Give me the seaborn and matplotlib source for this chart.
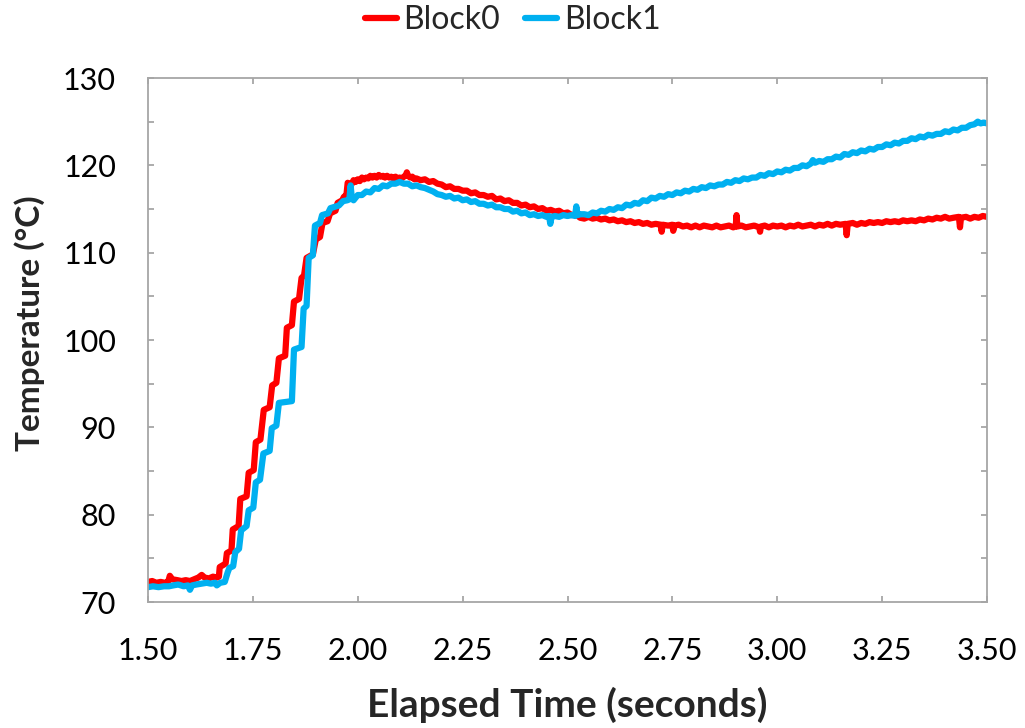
import numpy as np
import pandas as pd
import seaborn as sns
import matplotlib.pyplot as plt
from matplotlib.ticker import MultipleLocator, FixedLocator

# Block0 thermocouple trace: (time s, temperature °C)
block0_rise = [
    (1.500, 72.3), (1.510, 72.4), (1.520, 72.2), (1.530, 72.3), (1.540, 72.2),
    (1.548, 72.3), (1.552, 73.0), (1.558, 72.6), (1.570, 72.5), (1.580, 72.4),
    (1.590, 72.5), (1.600, 72.4), (1.610, 72.6), (1.620, 72.8), (1.628, 73.1),
    (1.635, 72.8), (1.645, 72.7), (1.655, 72.9), (1.664, 72.8), (1.669, 72.9),
    (1.671, 74.0), (1.685, 74.4), (1.688, 75.6), (1.699, 75.9), (1.702, 78.3),
    (1.716, 78.7), (1.720, 81.8), (1.735, 82.1), (1.740, 84.8), (1.752, 85.1),
    (1.757, 88.3), (1.768, 88.6), (1.776, 92.0), (1.790, 92.3), (1.796, 94.8),
    (1.806, 95.1), (1.812, 97.9), (1.827, 98.2), (1.831, 101.4), (1.843, 101.7),
    (1.848, 104.4), (1.860, 104.7), (1.866, 107.1), (1.872, 107.4), (1.878, 109.4),
    (1.893, 109.8), (1.900, 111.5), (1.910, 111.8), (1.916, 113.4), (1.928, 113.6),
    (1.934, 114.5), (1.947, 114.8), (1.952, 115.7), (1.963, 116.0), (1.967, 116.4),
    (1.973, 116.6), (1.976, 118.0),
]
block0_peak = [
    (1.985, 117.8), (1.990, 118.3), (1.995, 118.1), (2.000, 118.4), (2.005, 118.2),
    (2.010, 118.6), (2.015, 118.4), (2.020, 118.6), (2.025, 118.5), (2.030, 118.8),
    (2.035, 118.6), (2.040, 118.8), (2.045, 118.6), (2.050, 118.9), (2.055, 118.7),
    (2.060, 118.8), (2.065, 118.6), (2.070, 118.8), (2.075, 118.6), (2.080, 118.7),
    (2.085, 118.5), (2.090, 118.7), (2.095, 118.5), (2.100, 118.6), (2.105, 118.5),
    (2.110, 118.7), (2.115, 118.9), (2.117, 119.2), (2.120, 118.8), (2.125, 118.6),
    (2.130, 118.7), (2.135, 118.4), (2.140, 118.5), (2.150, 118.3), (2.160, 118.4),
    (2.170, 118.1), (2.180, 118.2), (2.190, 117.9), (2.200, 117.8), (2.210, 117.5),
    (2.220, 117.6), (2.230, 117.3), (2.240, 117.3), (2.250, 117.1), (2.260, 117.1),
    (2.270, 116.8), (2.280, 116.9), (2.290, 116.6), (2.300, 116.6), (2.310, 116.4),
    (2.320, 116.5), (2.330, 116.1), (2.340, 116.2), (2.350, 115.9), (2.360, 116.0),
    (2.370, 115.7), (2.380, 115.7), (2.390, 115.4), (2.400, 115.5), (2.410, 115.2),
    (2.420, 115.3), (2.430, 115.0), (2.440, 115.1), (2.450, 114.8), (2.460, 114.9),
    (2.470, 114.7), (2.480, 114.8), (2.490, 114.5), (2.500, 114.6), (2.510, 114.3),
    (2.520, 114.4), (2.530, 114.0),
]
block0_tail = [
    (2.540, 113.9), (2.550, 114.1), (2.560, 113.9), (2.570, 114.0), (2.580, 113.8),
    (2.590, 113.9), (2.600, 113.7), (2.610, 113.8), (2.620, 113.6), (2.630, 113.7),
    (2.640, 113.5), (2.650, 113.6), (2.660, 113.4), (2.670, 113.5), (2.680, 113.3),
    (2.690, 113.4), (2.700, 113.2), (2.710, 113.3), (2.722, 113.2), (2.7245, 112.4),
    (2.727, 113.2), (2.740, 113.1), (2.750, 113.2), (2.752, 112.5), (2.755, 113.1),
    (2.765, 113.2), (2.775, 113.0), (2.785, 113.1), (2.795, 112.9), (2.805, 113.1),
    (2.815, 112.9), (2.825, 113.1), (2.835, 113.0), (2.845, 112.9), (2.855, 113.1),
    (2.865, 112.9), (2.875, 113.0), (2.885, 113.1), (2.895, 112.9), (2.901, 113.0),
    (2.903, 114.3), (2.905, 113.0), (2.915, 113.1), (2.925, 112.9), (2.935, 113.0),
    (2.945, 113.1), (2.957, 112.9), (2.959, 112.4), (2.961, 113.0), (2.970, 113.1),
    (2.980, 112.9), (2.990, 113.1), (3.000, 113.0), (3.010, 113.1), (3.020, 112.9),
    (3.030, 113.1), (3.040, 113.0), (3.050, 113.2), (3.060, 113.0), (3.070, 113.1),
    (3.080, 113.2), (3.090, 113.0), (3.100, 113.2), (3.110, 113.1), (3.120, 113.3),
    (3.130, 113.1), (3.140, 113.3), (3.150, 113.2), (3.163, 113.3), (3.1655, 112.0),
    (3.168, 113.3), (3.180, 113.4), (3.190, 113.2), (3.200, 113.4), (3.210, 113.3),
    (3.220, 113.5), (3.230, 113.4), (3.240, 113.5), (3.250, 113.4), (3.260, 113.6),
    (3.270, 113.5), (3.280, 113.6), (3.290, 113.5), (3.300, 113.7), (3.310, 113.6),
    (3.320, 113.7), (3.330, 113.6), (3.340, 113.8), (3.350, 113.7), (3.360, 113.9),
    (3.370, 113.8), (3.380, 114.0), (3.390, 113.9), (3.400, 114.1), (3.410, 113.9),
    (3.420, 114.0), (3.433, 114.1), (3.4356, 112.9), (3.438, 114.0), (3.450, 114.1),
    (3.460, 113.9), (3.470, 114.1), (3.480, 114.0), (3.490, 114.2), (3.500, 114.1),
]

# Block1 thermocouple trace: (time s, temperature °C)
block1_rise = [
    (1.500, 71.7), (1.512, 71.8), (1.525, 71.7), (1.538, 71.8), (1.550, 71.8),
    (1.560, 71.9), (1.572, 72.0), (1.585, 71.8), (1.595, 71.9), (1.600, 71.4),
    (1.605, 71.9), (1.615, 72.0), (1.628, 72.1), (1.640, 72.2), (1.650, 72.1),
    (1.660, 72.2), (1.664, 71.9), (1.672, 72.2), (1.683, 72.3), (1.690, 73.4),
    (1.694, 73.9), (1.703, 74.1), (1.708, 75.7), (1.717, 76.1), (1.722, 78.2),
    (1.735, 78.7), (1.740, 80.5), (1.751, 80.8), (1.757, 83.7), (1.767, 84.0),
    (1.775, 87.0), (1.790, 87.3), (1.795, 89.9), (1.806, 90.2), (1.812, 92.8),
    (1.843, 93.0), (1.848, 98.9), (1.866, 99.2), (1.871, 103.6), (1.878, 103.9),
    (1.883, 109.4), (1.893, 109.7), (1.898, 113.1), (1.910, 113.4), (1.915, 114.3),
    (1.929, 114.5), (1.935, 115.1), (1.955, 115.4), (1.965, 115.9), (1.975, 116.0),
    (1.980, 116.1), (1.983, 117.7),
]
block1_peak = [
    (1.986, 116.2), (1.990, 116.0), (2.000, 116.6), (2.010, 116.6), (2.020, 117.0),
    (2.030, 116.9), (2.040, 117.4), (2.050, 117.3), (2.060, 117.7), (2.070, 117.6),
    (2.080, 117.9), (2.090, 117.9), (2.100, 118.1), (2.110, 117.9), (2.120, 117.9),
    (2.130, 117.6), (2.140, 117.7), (2.150, 117.5), (2.160, 117.4), (2.170, 117.2),
    (2.180, 117.0), (2.190, 116.7), (2.200, 116.6), (2.210, 116.4), (2.220, 116.5),
    (2.230, 116.2), (2.240, 116.3), (2.250, 116.0), (2.260, 116.1), (2.270, 115.8),
    (2.280, 115.9), (2.290, 115.6), (2.300, 115.6), (2.310, 115.4), (2.320, 115.5),
    (2.330, 115.2), (2.340, 115.2), (2.350, 115.0), (2.360, 115.0), (2.370, 114.7),
    (2.380, 114.8), (2.390, 114.5), (2.400, 114.6), (2.410, 114.3), (2.420, 114.4),
    (2.430, 114.2), (2.440, 114.3), (2.450, 114.1), (2.456, 114.2), (2.459, 113.3),
    (2.462, 114.1), (2.470, 114.2), (2.480, 114.1), (2.490, 114.3), (2.500, 114.2),
    (2.510, 114.3), (2.518, 114.2), (2.521, 115.3), (2.524, 114.3), (2.530, 114.4),
]
block1_tail = [
    (2.540, 114.4), (2.550, 114.3), (2.560, 114.6), (2.570, 114.5), (2.580, 114.8),
    (2.590, 114.7), (2.600, 115.0), (2.610, 114.9), (2.620, 115.2), (2.630, 115.1),
    (2.640, 115.5), (2.650, 115.4), (2.660, 115.7), (2.670, 115.6), (2.680, 116.0),
    (2.690, 115.9), (2.700, 116.3), (2.710, 116.2), (2.720, 116.5), (2.730, 116.4),
    (2.740, 116.7), (2.750, 116.6), (2.760, 116.9), (2.770, 116.8), (2.780, 117.1),
    (2.790, 117.0), (2.800, 117.3), (2.810, 117.2), (2.820, 117.5), (2.830, 117.4),
    (2.840, 117.7), (2.850, 117.6), (2.860, 117.8), (2.870, 117.8), (2.880, 118.1),
    (2.890, 118.0), (2.900, 118.3), (2.910, 118.2), (2.920, 118.5), (2.930, 118.4),
    (2.940, 118.6), (2.950, 118.6), (2.960, 118.9), (2.970, 118.8), (2.980, 119.1),
    (2.990, 119.0), (3.000, 119.3), (3.010, 119.2), (3.020, 119.5), (3.030, 119.4),
    (3.040, 119.7), (3.050, 119.7), (3.060, 120.0), (3.070, 119.9), (3.080, 120.2),
    (3.085, 120.6), (3.090, 120.3), (3.100, 120.5), (3.110, 120.4), (3.120, 120.7),
    (3.130, 120.7), (3.140, 121.0), (3.150, 120.9), (3.160, 121.3), (3.170, 121.2),
    (3.180, 121.5), (3.190, 121.4), (3.200, 121.7), (3.210, 121.6), (3.220, 121.9),
    (3.230, 121.8), (3.240, 122.1), (3.250, 122.1), (3.260, 122.4), (3.270, 122.3),
    (3.280, 122.6), (3.290, 122.5), (3.300, 122.8), (3.310, 122.8), (3.320, 123.1),
    (3.330, 123.0), (3.340, 123.3), (3.350, 123.2), (3.360, 123.5), (3.370, 123.4),
    (3.380, 123.6), (3.390, 123.6), (3.400, 123.9), (3.410, 123.8), (3.420, 124.1),
    (3.430, 124.0), (3.440, 124.3), (3.450, 124.3), (3.460, 124.6), (3.470, 124.7),
    (3.478, 125.0), (3.485, 124.8), (3.492, 124.9), (3.500, 124.8),
]

series_names = ["Block0", "Block1"]
series_colors = ["#FF0000", "#00B0F0"]
x_ticks = [1.50, 1.75, 2.00, 2.25, 2.50, 2.75, 3.00, 3.25, 3.50]
y_ticks = [70, 80, 90, 100, 110, 120, 130]


def trace_frame(points, name):
    t, temp = zip(*points)
    return pd.DataFrame({"time": t, "temp": temp, "series": name})


df = pd.concat([
    trace_frame(block0_rise + block0_peak + block0_tail, series_names[0]),
    trace_frame(block1_rise + block1_peak + block1_tail, series_names[1]),
], ignore_index=True)

sns.set_theme(style="white")
plt.rcParams["font.family"] = ["Lato", "DejaVu Sans"]

W, H = 1025, 728
fig = plt.figure(figsize=(W / 100, H / 100), dpi=100)
ax = fig.add_axes([148 / W, 126 / H, 839 / W, 524 / H])

LW = 4.5
sns.lineplot(
    data=df, x="time", y="temp", hue="series",
    palette=dict(zip(series_names, series_colors)),
    estimator=None, sort=False, linewidth=LW, ax=ax,
)
for line in ax.get_lines():
    line.set_solid_joinstyle("round")
    line.set_solid_capstyle("round")

ax.set_xlim(1.5, 3.5)
ax.set_ylim(70, 130)
ax.xaxis.set_major_locator(FixedLocator(x_ticks))
ax.yaxis.set_major_locator(FixedLocator(y_ticks))
ax.yaxis.set_minor_locator(MultipleLocator(5))
ax.set_xticklabels([f"{v:.2f}" for v in x_ticks])
ax.set_yticklabels([str(v) for v in y_ticks])

grey = "#A6A6A6"
for sp in ax.spines.values():
    sp.set_color(grey)
    sp.set_linewidth(1.3)
ax.tick_params(which="both", direction="in", length=4, width=1.3, color=grey,
               top=True, right=True, bottom=True, left=True)
ax.tick_params(axis="x", which="major", labelsize=22, pad=25, labelcolor="black")
ax.tick_params(axis="y", which="major", labelsize=22, pad=23, labelcolor="black")

ax.set_xlabel("Elapsed Time (seconds)", fontsize=28, fontweight="bold")
ax.set_ylabel("Temperature (°C)", fontsize=24, fontweight="bold")
ax.xaxis.label.set_va("center")
ax.yaxis.label.set_va("center")
ax.xaxis.set_label_coords(0.5, (602 - 705) / 524)
ax.yaxis.set_label_coords((30 - 148) / 839, (602 - 323) / 524)

handles, labels = ax.get_legend_handles_labels()
ax.get_legend().remove()
leg = fig.legend(handles, labels, loc="center", bbox_to_anchor=(0.5, 1 - 20 / H),
                 ncol=2, frameon=False, fontsize=23, handlelength=1.0,
                 handletextpad=0.2, columnspacing=0.8)
for h in leg.get_lines():
    h.set_linewidth(LW)

fig.savefig("out.png", dpi=100)
